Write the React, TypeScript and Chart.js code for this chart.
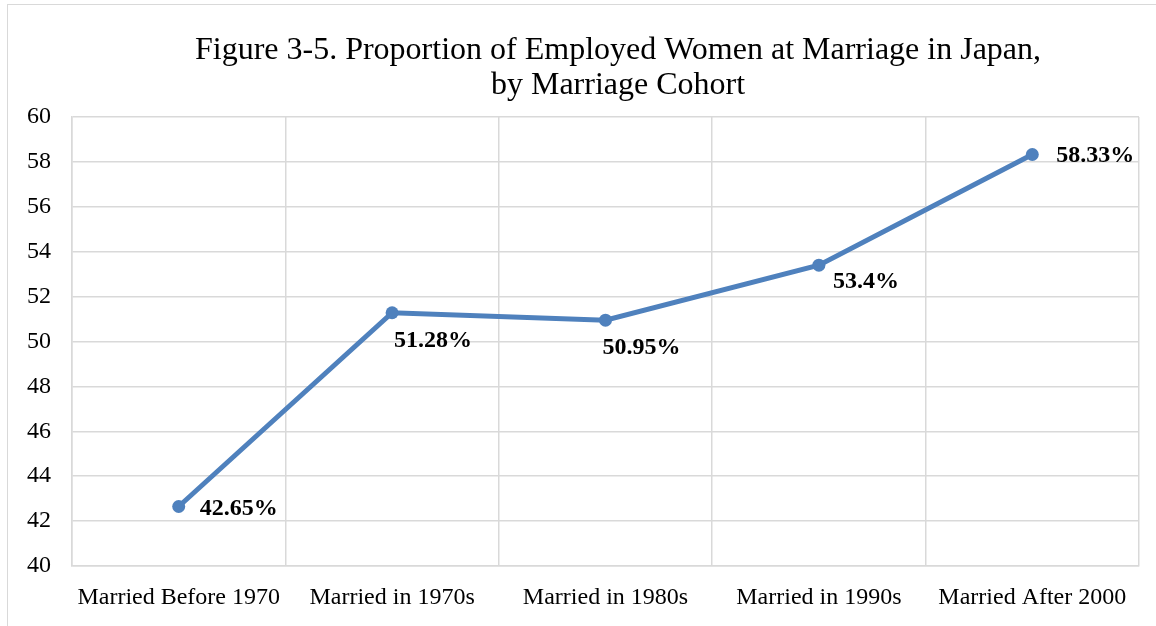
import React, { useEffect, useRef } from "react";
import { Chart, registerables } from "chart.js";

Chart.register(...registerables);

const categories = [
  "Married Before 1970",
  "Married in 1970s",
  "Married in 1980s",
  "Married in 1990s",
  "Married After 2000",
];
const proportions = [42.65, 51.28, 50.95, 53.4, 58.33];
const valueLabels = ["42.65%", "51.28%", "50.95%", "53.4%", "58.33%"];
const titleLines = [
  "Figure 3-5. Proportion of Employed Women at Marriage in Japan,",
  "by Marriage Cohort",
];
const yMin = 40;
const yMax = 60;
const yStep = 2;

// label placement relative to each point (left edge of text, vertical center)
const labelOffsets = [
  [21, 2],
  [2, 28],
  [-3, 28],
  [14, 17],
  [24, 1],
];

const FONT = "'Liberation Serif', 'Times New Roman', serif";

const labelPlugin = {
  id: "valueLabels",
  afterDatasetsDraw(chart: any) {
    const ctx = chart.ctx;
    const meta = chart.getDatasetMeta(0);
    ctx.save();
    ctx.font = `bold 24px ${FONT}`;
    ctx.fillStyle = "#000000";
    ctx.textAlign = "left";
    ctx.textBaseline = "middle";
    meta.data.forEach((pt: any, i: number) => {
      const [dx, dy] = labelOffsets[i];
      ctx.fillText(valueLabels[i], pt.x + dx, pt.y + dy);
    });
    ctx.restore();
  },
};

const titlePlugin = {
  id: "offsetTitle",
  afterDraw(chart: any) {
    const ctx = chart.ctx;
    ctx.save();
    ctx.font = `32px ${FONT}`;
    ctx.fillStyle = "#000000";
    ctx.textAlign = "center";
    ctx.textBaseline = "alphabetic";
    titleLines.forEach((line, i) => {
      ctx.fillText(line, 618, 59 + i * 35);
    });
    ctx.restore();
  },
};

export default function App() {
  const ref = useRef<HTMLCanvasElement>(null);
  useEffect(() => {
    if (!ref.current) return;
    const chart = new Chart(ref.current, {
      type: "line",
      data: {
        labels: categories,
        datasets: [
          {
            data: proportions,
            borderColor: "#4F81BD",
            backgroundColor: "#4F81BD",
            borderWidth: 5,
            pointRadius: 6.5,
            pointBackgroundColor: "#4F81BD",
            pointBorderWidth: 0,
            tension: 0,
          },
        ],
      },
      options: {
        responsive: false,
        animation: false,
        layout: { padding: { left: 0, right: 17, top: 117, bottom: 0 } },
        plugins: {
          legend: { display: false },
          tooltip: { enabled: false },
          title: { display: false },
        },
        scales: {
          x: {
            offset: true,
            grid: { offset: true, color: "#d9d9d9", lineWidth: 1.5, drawTicks: false },
            border: { color: "#d9d9d9", width: 1.5 },
            ticks: {
              color: "#000000",
              font: { family: FONT, size: 24 },
              padding: 17,
              maxRotation: 0,
              autoSkip: false,
            },
            afterFit(scale: any) {
              scale.height = 60;
            },
          },
          y: {
            min: yMin,
            max: yMax,
            grid: { color: "#d9d9d9", lineWidth: 1.5, drawTicks: false },
            border: { color: "#d9d9d9", width: 1.5 },
            ticks: {
              stepSize: yStep,
              color: "#000000",
              font: { family: FONT, size: 24 },
              padding: 21,
            },
            afterFit(scale: any) {
              scale.width = 72;
            },
          },
        },
      },
      plugins: [labelPlugin, titlePlugin],
    });
    return () => chart.destroy();
  }, []);

  return (
    <>
      <div
        style={{
          position: "fixed",
          left: 7,
          top: 4,
          width: 1200,
          height: 700,
          border: "1.5px solid #d9d9d9",
          boxSizing: "border-box",
        }}
      />
      <canvas
        ref={ref}
        width={1156}
        height={626}
        style={{ position: "fixed", left: 0, top: 0, width: 1156, height: 626 }}
      />
    </>
  );
}
